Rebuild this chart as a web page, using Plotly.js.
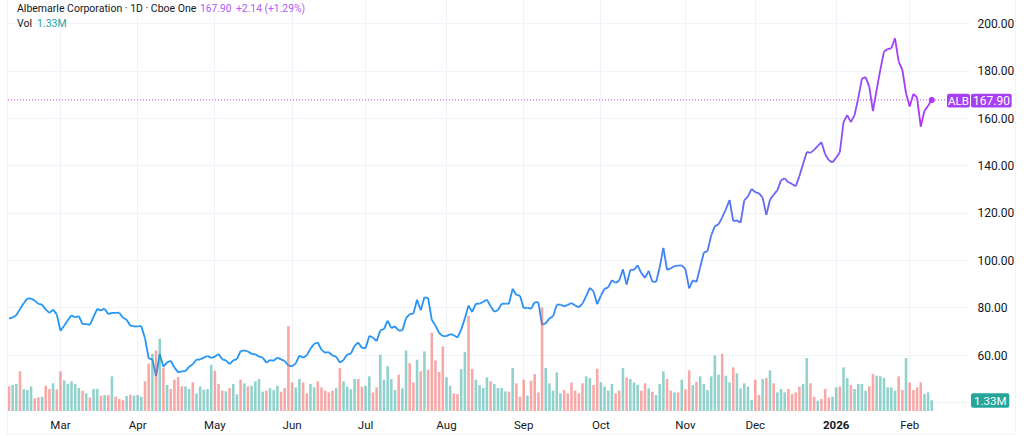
<!DOCTYPE html>
<html><head><meta charset="utf-8">
<script src="https://cdn.plot.ly/plotly-3.0.1.min.js"></script>
<style>html,body{margin:0;padding:0;background:#fff}#c{width:1024px;height:436px}</style>
</head><body><div id="c"></div>
<script>
const closes = [
75.5,76.0,76.9,79.6,82.0,84.0,84.0,83.1,81.7,81.4,
79.3,77.9,79.3,77.3,70.4,72.5,74.8,76.9,76.0,76.6,
73.2,73.2,72.9,76.2,79.6,78.9,79.7,77.4,77.9,77.9,
78.0,75.9,75.0,72.5,72.2,72.2,72.3,67.2,58.7,58.3,
51.2,60.6,55.2,57.0,57.7,54.9,52.8,53.2,53.3,55.2,
56.2,58.2,58.2,59.0,59.7,58.9,59.4,60.6,58.3,57.9,
56.3,57.9,58.4,61.8,62.1,61.6,60.6,60.4,59.4,59.1,
56.9,58.0,57.7,59.0,58.3,57.6,55.7,55.3,56.6,59.9,
59.0,60.0,62.8,64.8,65.4,62.3,61.1,61.3,59.9,59.4,
56.9,
58.0,60.3,60.7,64.0,65.4,63.1,63.0,68.2,67.5,66.0,
70.5,71.1,74.6,71.5,72.2,70.4,70.5,75.7,77.4,77.6,
83.5,79.0,84.5,84.3,75.0,72.6,69.4,68.1,68.1,68.9,
68.5,67.5,70.8,75.6,81.0,78.3,81.8,81.8,82.6,83.5,
80.7,78.4,79.1,81.8,81.8,81.8,88.1,85.5,85.2,79.9,
80.1,79.6,82.4,82.4,72.9,73.5,75.6,76.5,81.4,81.4,
80.7,81.3,82.1,81.0,80.3,81.8,85.0,88.5,87.0,81.6,
85.2,88.1,88.7,91.7,90.6,91.6,96.3,89.9,96.1,96.1,
98.0,94.7,92.7,95.7,91.1,91.0,97.1,105.4,96.1,96.7,
97.7,97.9,
98.0,96.4,88.3,91.7,91.0,97.1,103.4,104.0,110.6,114.6,
115.3,118.3,121.7,125.6,116.7,117.0,116.0,125.4,127.1,130.3,
128.9,128.4,126.6,119.3,125.7,127.9,129.7,133.9,134.8,133.1,
132.4,131.4,135.7,140.8,145.9,145.5,146.8,148.5,150.0,144.9,
142.4,141.5,143.5,145.8,158.5,161.5,158.5,161.5,168.6,176.9,
177.5,173.5,163.2,172.1,180.6,188.3,189.4,189.7,193.9,184.1,
180.6,170.7,165.1,170.4,168.9,156.6,163.2,165.4,167.9];

const volumes = [
3.06,3.26,3.35,4.92,2.69,2.60,3.06,1.57,1.69,1.78,
3.14,2.73,3.43,2.69,4.92,3.80,3.35,3.68,3.35,2.85,
2.52,2.19,1.69,2.73,2.73,1.90,1.98,1.98,4.30,1.78,
1.49,1.36,1.86,2.02,1.90,1.98,1.78,3.68,5.87,7.11,
7.52,8.97,5.37,3.22,2.73,3.88,4.21,3.06,3.06,2.73,
3.55,2.19,3.06,2.64,2.73,5.74,5.00,3.35,2.52,2.44,
2.85,3.35,2.07,3.88,3.43,3.06,3.14,3.68,3.97,2.40,
2.52,2.85,2.60,3.14,2.40,2.85,10.54,3.55,2.93,3.97,
3.55,2.19,3.35,2.93,3.68,2.93,2.52,2.31,2.52,2.85,
5.33,
3.68,3.02,2.69,3.97,3.97,3.02,3.14,4.30,2.31,2.93,
6.98,3.88,5.54,3.97,2.60,4.50,2.81,7.52,5.95,3.55,
6.36,4.92,7.40,5.12,9.71,6.28,4.83,8.02,4.17,3.14,
2.19,2.11,5.21,7.31,11.82,5.21,3.88,3.22,2.85,4.17,
3.68,3.35,2.85,2.85,2.44,2.40,5.33,3.43,1.78,3.88,
1.90,3.76,4.59,2.31,12.85,5.33,3.43,2.52,4.79,2.19,
2.60,2.19,3.55,2.52,2.19,3.43,4.30,4.09,3.22,5.25,
3.55,3.02,2.52,3.35,2.19,2.52,5.33,4.17,3.97,3.55,
3.26,2.52,3.43,2.81,2.40,1.98,3.35,4.92,3.97,2.52,
2.31,2.31,
3.88,2.69,5.04,3.22,3.64,4.30,3.35,2.60,4.30,6.90,
4.50,7.11,4.38,3.55,5.41,4.67,2.81,3.43,3.02,1.36,
3.88,1.98,3.97,4.09,5.04,3.43,2.31,2.73,2.31,2.73,
2.11,2.31,3.02,3.35,6.57,3.43,1.78,1.28,1.49,2.73,
1.69,1.78,2.93,3.06,5.41,4.09,3.22,2.73,3.35,3.35,
2.52,3.06,4.59,4.38,4.30,4.09,2.93,2.93,2.52,4.30,
2.60,6.57,3.55,2.60,2.93,3.55,2.11,2.31,1.33];

const volUp = [
0,1,1,0,1,1,1,0,0,1,
0,0,1,0,0,1,1,1,1,1,
0,1,0,1,1,0,1,0,1,0,
0,0,1,0,1,1,1,0,0,1,
0,1,0,1,0,0,0,0,1,1,
0,1,1,1,1,1,0,0,0,1,
0,1,1,0,1,0,1,1,1,1,
0,1,1,1,0,0,0,0,1,1,
0,0,1,1,0,0,0,0,0,1,
0,
1,1,1,1,0,0,1,1,0,0,
1,1,1,1,1,0,1,1,0,0,
1,0,1,0,0,0,0,0,1,1,
0,0,1,1,0,0,1,1,1,1,
0,1,1,1,1,0,1,0,0,0,
1,0,0,0,0,1,1,1,1,1,
0,0,0,0,0,0,1,1,0,0,
1,1,1,1,0,0,1,0,1,1,
1,0,0,1,0,1,1,1,0,0,
1,0,
1,0,0,1,0,1,1,1,1,1,
1,0,1,1,0,1,1,1,1,1,
0,0,1,0,1,0,1,1,1,0,
0,0,0,1,1,0,0,1,0,0,
0,1,1,0,1,1,0,1,1,1,
1,0,0,1,1,1,1,1,1,0,
0,1,0,0,0,0,1,1,1];

const monthIndex = [14,35,56,77,97,119,140,161,184,203,225,245];
const monthLabels = ['Mar','Apr','May','Jun','Jul','Aug','Sep','Oct','Nov','Dec','<b>2026</b>','Feb'];
const priceTicks = [40,60,80,100,120,140,160,180,200];
const priceLabels = ['','60.00','80.00','100.00','120.00','140.00','160.00','180.00','200.00'];
const lastPrice = 167.90, lastVolumeLabel = '1.33M';
const FONT = 'Roboto, sans-serif';
const INK = '#131722', GRID = '#f0f3fa', PURPLE = '#a93ff5', TEAL = '#26a69a';

// colour ramp along the line: [bar index, r, g, b]
const ramp = [[0,33,150,243],[140,40,146,243],[190,72,125,242],[215,120,92,244],[251,178,50,250]];
function rampColor(i){
  for(let k=1;k<ramp.length;k++){ if(i<=ramp[k][0]){
    const a=ramp[k-1],b=ramp[k],t=(i-a[0])/(b[0]-a[0]);
    return 'rgb('+[1,2,3].map(c=>Math.round(a[c]+(b[c]-a[c])*t)).join(',')+')';
  }}
  return 'rgb(178,50,250)';
}

// plot rectangle in page pixels
const L=8,R=970,T=0,B=411;
const px=x=>(x-L)/(R-L), py=y=>1-(y-T)/(B-T);
const idx = closes.map((_,i)=>i);
const traces = [{
  type:'bar', x:idx, y:volumes, yaxis:'y2', width:0.7,
  marker:{color:volUp.map(u=>u?'rgba(38,166,154,0.5)':'rgba(239,83,80,0.5)'),line:{width:0}}
}];
for(let i=0;i<closes.length-1;i++){
  traces.push({type:'scatter',mode:'lines',x:[idx[i],idx[i+1]],y:[closes[i],closes[i+1]],
    line:{color:rampColor(i+0.5),width:1.8},yaxis:'y'});
}
traces.push({type:'scatter',mode:'markers',x:[idx[idx.length-1]],y:[lastPrice],yaxis:'y',
  marker:{color:rampColor(251),size:6}});

function rrect(x0,y0,x1,y1,r,col){
  const X=px,Y=py;
  return {type:'path',xref:'paper',yref:'paper',fillcolor:col,line:{width:0},layer:'above',
    path:`M${X(x0+r)} ${Y(y0)}L${X(x1-r)} ${Y(y0)}Q${X(x1)} ${Y(y0)} ${X(x1)} ${Y(y0+r)}L${X(x1)} ${Y(y1-r)}Q${X(x1)} ${Y(y1)} ${X(x1-r)} ${Y(y1)}L${X(x0+r)} ${Y(y1)}Q${X(x0)} ${Y(y1)} ${X(x0)} ${Y(y1-r)}L${X(x0)} ${Y(y0+r)}Q${X(x0)} ${Y(y0)} ${X(x0+r)} ${Y(y0)}Z`};
}
function note(text,x,y,color,size,anchor){
  return {text:text,xref:'paper',yref:'paper',x:px(x),y:py(y),xanchor:anchor||'left',yanchor:'middle',
    showarrow:false,borderpad:0,font:{family:FONT,size:size||10.5,color:color}};
}

const layout = {
  width:1024,height:436,margin:{l:L,r:1024-R,t:T,b:436-B,pad:0},
  paper_bgcolor:'#fff',plot_bgcolor:'#fff',showlegend:false,hovermode:false,barmode:'overlay',
  font:{family:FONT,color:INK},
  xaxis:{range:[-0.27,261.4],tickmode:'array',tickvals:monthIndex,ticktext:monthLabels,
    showgrid:true,gridcolor:GRID,gridwidth:1,zeroline:false,showline:false,
    ticks:'outside',ticklen:3,tickcolor:'rgba(0,0,0,0)',tickfont:{family:FONT,size:11.5,color:INK}},
  yaxis:{range:[36.47,210.1],side:'right',tickmode:'array',tickvals:priceTicks,ticktext:priceLabels,
    showgrid:true,gridcolor:GRID,gridwidth:1,zeroline:false,showline:false,
    ticks:'outside',ticklen:4,tickcolor:'rgba(0,0,0,0)',tickfont:{family:FONT,size:12,color:INK}},
  yaxis2:{range:[0,51],overlaying:'y',side:'right',showgrid:false,zeroline:false,showticklabels:false,ticks:''},
  shapes:[
    {type:'rect',xref:'paper',yref:'paper',x0:px(7.5),x1:px(1015.5),y0:py(434),y1:py(-2),line:{color:GRID,width:1},layer:'below'},
    {type:'line',xref:'paper',yref:'y',x0:0,x1:1,y0:lastPrice,y1:lastPrice,line:{color:'#b44dfa',width:1,dash:'1px,2px'},layer:'above'},
    rrect(947,93.7,970,107.4,2,PURPLE),
    rrect(971,93.7,1011.7,107.4,2,PURPLE),
    rrect(971,393.3,1009.3,407.7,2,TEAL)
  ],
  annotations:[
    note('Albemarle Corporation · 1D · Cboe One',15.5,8.5,INK),
    note('167.90',199,8.5,'#b05cf5',10.3),
    note('+2.14 (+1.29%)',235,8.5,'#b05cf5',10.3),
    note('Vol',15.5,23,INK),
    note(lastVolumeLabel,36,23,TEAL,10.5),
    note('ALB',958.5,100.6,'#fff',11.5,'center'),
    note('167.90',991.3,100.6,'#fff',12,'center'),
    note(lastVolumeLabel,990,400.5,'#fff',11.5,'center')
  ]
};
Plotly.newPlot('c',traces,layout,{displayModeBar:false,staticPlot:true});
</script></body></html>
